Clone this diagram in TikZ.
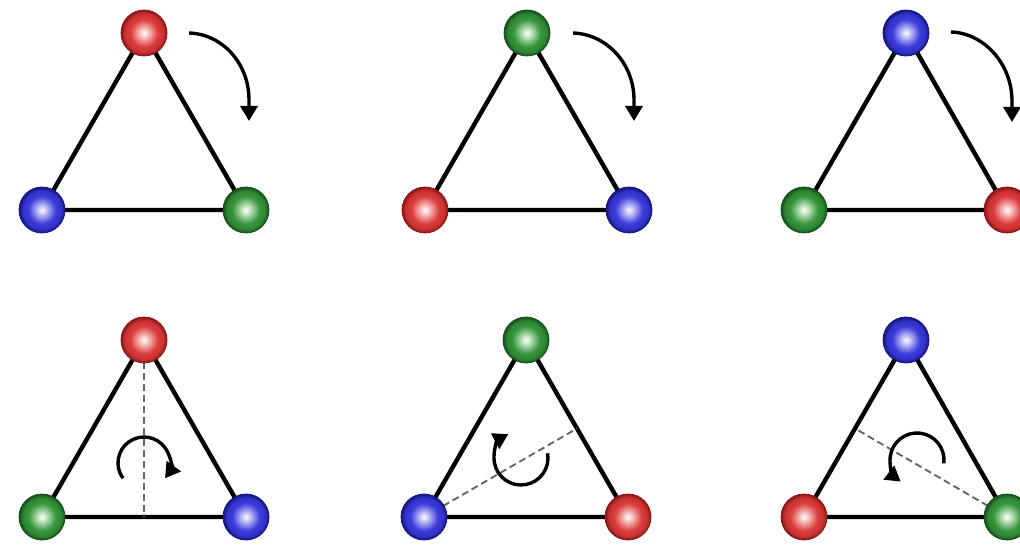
\documentclass[tikz,border=0pt]{standalone}
\usetikzlibrary{arrows.meta,calc}
\definecolor{rmid}{RGB}{220,60,60}
\definecolor{rdark}{RGB}{140,20,20}
\definecolor{rlight}{RGB}{252,215,215}
\definecolor{gmid}{RGB}{55,150,60}
\definecolor{gdark}{RGB}{20,80,25}
\definecolor{glight}{RGB}{215,240,215}
\definecolor{bmid}{RGB}{60,60,220}
\definecolor{bdark}{RGB}{20,20,130}
\definecolor{blight}{RGB}{215,215,252}
\pgfdeclareradialshading{redsph}{\pgfpoint{0bp}{0bp}}{color(0bp)=(white);color(3bp)=(rlight);color(15bp)=(rmid);color(21bp)=(rmid!75!rdark);color(25bp)=(rdark);color(50bp)=(rdark)}
\pgfdeclareradialshading{greensph}{\pgfpoint{0bp}{0bp}}{color(0bp)=(white);color(3bp)=(glight);color(15bp)=(gmid);color(21bp)=(gmid!75!gdark);color(25bp)=(gdark);color(50bp)=(gdark)}
\pgfdeclareradialshading{bluesph}{\pgfpoint{0bp}{0bp}}{color(0bp)=(white);color(3bp)=(blight);color(15bp)=(bmid);color(21bp)=(bmid!75!bdark);color(25bp)=(bdark);color(50bp)=(bdark)}
\pgfdeclarelayer{bg}
\pgfsetlayers{bg,main}
\tikzset{
  ball/.style={circle, minimum size=46pt, inner sep=0pt, line width=0.8pt, shade},
  redball/.style={ball, shading=redsph, draw=rdark},
  greenball/.style={ball, shading=greensph, draw=gdark},
  blueball/.style={ball, shading=bluesph, draw=bdark},
  edgeline/.style={line width=4.4pt, black},
  axisline/.style={dash pattern=on 7pt off 4pt, line width=1.9pt, black!60},
  turn/.style={line width=3.4pt, black, -{Triangle[length=15pt,width=17pt]}},
}
\begin{document}
\begin{tikzpicture}[x=1pt,y=1pt]
\useasboundingbox (0,0) rectangle (1020,544);
% ---------- top row ----------
\node[redball]   (t1a) at (144,511) {};
\node[blueball]  (t1b) at (42,334) {};
\node[greenball] (t1c) at (246,334) {};
\node[greenball] (t2a) at (527,511) {};
\node[redball]   (t2b) at (425,334) {};
\node[blueball]  (t2c) at (629,334) {};
\node[blueball]  (t3a) at (906,511) {};
\node[greenball] (t3b) at (804,334) {};
\node[redball]   (t3c) at (1007,334) {};
% ---------- bottom row ----------
\node[redball]   (t4a) at (144,204) {};
\node[greenball] (t4b) at (42,27) {};
\node[blueball]  (t4c) at (246,27) {};
\node[greenball] (t5a) at (526,204) {};
\node[blueball]  (t5b) at (424,27) {};
\node[redball]   (t5c) at (628,27) {};
\node[blueball]  (t6a) at (906,204) {};
\node[redball]   (t6b) at (804,27) {};
\node[greenball] (t6c) at (1007,27) {};
\begin{pgfonlayer}{bg}
  \foreach \t in {t1,t2,t3,t4,t5,t6}{
    \draw[edgeline] (\t a.center) -- (\t b.center) -- (\t c.center) -- cycle;
  }
  \coordinate (m4) at ($(t4b)!0.5!(t4c)$);
  \coordinate (m5) at ($(t5a)!0.5!(t5c)$);
  \coordinate (m6) at ($(t6a)!0.5!(t6b)$);
  \draw[axisline] (t4a.center) -- (m4);
  \draw[axisline] (t5b.center) -- (m5);
  \draw[axisline] (t6c.center) -- (m6);
\end{pgfonlayer}
% ---------- rotation arrows, top row ----------
\coordinate (a1s) at (189,511); \coordinate (a1e) at (249,423);
\coordinate (a2s) at (573,511); \coordinate (a2e) at (634,423);
\coordinate (a3s) at (951,512); \coordinate (a3e) at (1012,422);
\draw[turn] (a1s) .. controls +(33,-1) and +(0,37) .. ($(a1e)+(0,21)$) -- (a1e);
\draw[turn] (a2s) .. controls +(33,-1) and +(0,37) .. ($(a2e)+(0,21)$) -- (a2e);
\draw[turn] (a3s) .. controls +(33,-1) and +(0,37) .. ($(a3e)+(0,21)$) -- (a3e);
% ---------- rotation arrows, bottom row ----------
\coordinate (c4) at (144,81);
\coordinate (c5) at (521,86);
\coordinate (c6) at (917,84);
\draw[turn] ($(c4)+(216:26)$) arc[start angle=216, end angle=-36, radius=26];
\draw[turn] ($(c5)+(10:27)$) arc[start angle=10, end angle=-242, radius=27];
\draw[turn] ($(c6)+(-7:27)$) arc[start angle=-7, end angle=233, radius=27];
\end{tikzpicture}
\end{document}
